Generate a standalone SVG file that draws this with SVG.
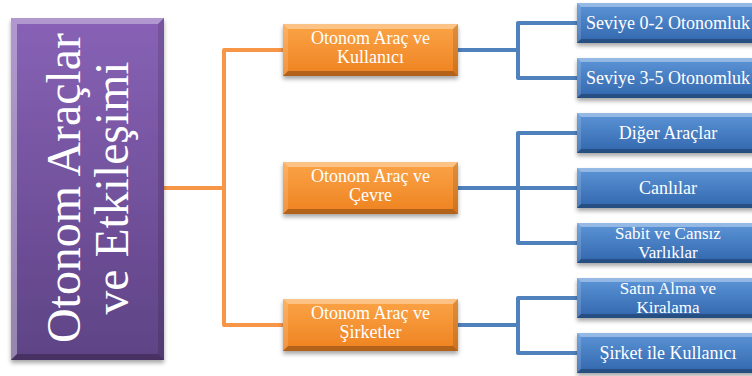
<svg xmlns="http://www.w3.org/2000/svg" width="752" height="376" viewBox="0 0 752 376">
<defs>
<linearGradient id="gPurple" x1="0" y1="0" x2="0" y2="1"><stop offset="0" stop-color="#8862B6"/><stop offset="1" stop-color="#5E4385"/></linearGradient>
<linearGradient id="gOrange" x1="0" y1="0" x2="0" y2="1"><stop offset="0" stop-color="#FBA447"/><stop offset="1" stop-color="#EE8220"/></linearGradient>
<linearGradient id="gBlue" x1="0" y1="0" x2="0" y2="1"><stop offset="0" stop-color="#5D95D8"/><stop offset="1" stop-color="#3166AC"/></linearGradient>
<filter id="sh" x="-10%" y="-20%" width="120%" height="150%"><feDropShadow dx="0" dy="3" stdDeviation="2" flood-color="#000" flood-opacity="0.35"/></filter>
</defs>
<style>
.lo{fill:none;stroke:#F79646;stroke-width:4;stroke-linejoin:round}
.lb{fill:none;stroke:#4F81BD;stroke-width:4;stroke-linejoin:round}
.hi{fill:#fff;fill-opacity:0.35}
.lt{fill:#fff;fill-opacity:0.15}
.dk{fill:#000;fill-opacity:0.25}
.dm{fill:#000;fill-opacity:0.12}
.t{font-family:"Liberation Serif","Times New Roman",serif;fill:#fff;text-anchor:middle}
.to{font-size:18px}
.tb{font-size:18px}
.tb2{font-size:17px}
.tp{font-size:48px}
</style>
<rect width="752" height="376" fill="#fff"/>
<g id="connectors">
<path class="lo" d="M164,188H224M283,50H224V325H283"/>
<path class="lb" d="M458,50H518M577,23H518V78H577"/>
<path class="lb" d="M458,188H518M577,133H518V243H577M518,188H577"/>
<path class="lb" d="M458,325H518M577,298H518V353H577"/>
</g>
<g id="root">
<rect x="11" y="18" width="153" height="342" fill="url(#gPurple)" filter="url(#sh)"/>
<polygon class="hi" points="11,18 164,18 158,24 17,24"/>
<polygon class="hi" points="11,18 17,24 17,354 11,360"/>
<polygon class="dk" points="11,360 17,354 158,354 164,360"/>
<polygon class="dm" points="164,18 164,360 158,354 158,24"/>
<text class="t tp" transform="translate(80,188) rotate(-90)" textLength="310" lengthAdjust="spacingAndGlyphs">Otonom Araçlar</text>
<text class="t tp" transform="translate(128,188) rotate(-90)" textLength="253" lengthAdjust="spacingAndGlyphs">ve Etkileşimi</text>
</g>
<g id="o1">
<rect x="283" y="24" width="175" height="52" fill="url(#gOrange)" filter="url(#sh)"/>
<polygon class="hi" points="283,24 458,24 453,29 288,29"/>
<polygon class="lt" points="283,24 288,29 288,71 283,76"/>
<polygon class="dk" points="283,76 288,71 453,71 458,76"/>
<polygon class="dm" points="458,24 458,76 453,71 453,29"/>
<text class="t to" x="370.5" y="44">Otonom Araç ve</text>
<text class="t to" x="370.5" y="63">Kullanıcı</text>
</g>
<g id="o2">
<rect x="283" y="162" width="175" height="52" fill="url(#gOrange)" filter="url(#sh)"/>
<polygon class="hi" points="283,162 458,162 453,167 288,167"/>
<polygon class="lt" points="283,162 288,167 288,209 283,214"/>
<polygon class="dk" points="283,214 288,209 453,209 458,214"/>
<polygon class="dm" points="458,162 458,214 453,209 453,167"/>
<text class="t to" x="370.5" y="182">Otonom Araç ve</text>
<text class="t to" x="370.5" y="201">Çevre</text>
</g>
<g id="o3">
<rect x="283" y="299" width="175" height="52" fill="url(#gOrange)" filter="url(#sh)"/>
<polygon class="hi" points="283,299 458,299 453,304 288,304"/>
<polygon class="lt" points="283,299 288,304 288,346 283,351"/>
<polygon class="dk" points="283,351 288,346 453,346 458,351"/>
<polygon class="dm" points="458,299 458,351 453,346 453,304"/>
<text class="t to" x="370.5" y="319">Otonom Araç ve</text>
<text class="t to" x="370.5" y="338">Şirketler</text>
</g>
<g id="b1">
<rect x="577" y="3" width="182" height="40" fill="url(#gBlue)" filter="url(#sh)"/>
<polygon class="hi" points="577,3 759,3 755,7 581,7"/>
<polygon class="lt" points="577,3 581,7 581,39 577,43"/>
<polygon class="dk" points="577,43 581,39 755,39 759,43"/>
<text class="t tb" x="668" y="29">Seviye 0-2 Otonomluk</text>
</g>
<g id="b2">
<rect x="577" y="58" width="182" height="40" fill="url(#gBlue)" filter="url(#sh)"/>
<polygon class="hi" points="577,58 759,58 755,62 581,62"/>
<polygon class="lt" points="577,58 581,62 581,94 577,98"/>
<polygon class="dk" points="577,98 581,94 755,94 759,98"/>
<text class="t tb" x="668" y="84">Seviye 3-5 Otonomluk</text>
</g>
<g id="b3">
<rect x="577" y="113" width="182" height="40" fill="url(#gBlue)" filter="url(#sh)"/>
<polygon class="hi" points="577,113 759,113 755,117 581,117"/>
<polygon class="lt" points="577,113 581,117 581,149 577,153"/>
<polygon class="dk" points="577,153 581,149 755,149 759,153"/>
<text class="t tb" x="668" y="139">Diğer Araçlar</text>
</g>
<g id="b4">
<rect x="577" y="168" width="182" height="40" fill="url(#gBlue)" filter="url(#sh)"/>
<polygon class="hi" points="577,168 759,168 755,172 581,172"/>
<polygon class="lt" points="577,168 581,172 581,204 577,208"/>
<polygon class="dk" points="577,208 581,204 755,204 759,208"/>
<text class="t tb" x="668" y="194">Canlılar</text>
</g>
<g id="b5">
<rect x="577" y="223" width="182" height="40" fill="url(#gBlue)" filter="url(#sh)"/>
<polygon class="hi" points="577,223 759,223 755,227 581,227"/>
<polygon class="lt" points="577,223 581,227 581,259 577,263"/>
<polygon class="dk" points="577,263 581,259 755,259 759,263"/>
<text class="t tb2" x="668" y="239">Sabit ve Cansız</text>
<text class="t tb2" x="668" y="258">Varlıklar</text>
</g>
<g id="b6">
<rect x="577" y="278" width="182" height="40" fill="url(#gBlue)" filter="url(#sh)"/>
<polygon class="hi" points="577,278 759,278 755,282 581,282"/>
<polygon class="lt" points="577,278 581,282 581,314 577,318"/>
<polygon class="dk" points="577,318 581,314 755,314 759,318"/>
<text class="t tb2" x="668" y="294">Satın Alma ve</text>
<text class="t tb2" x="668" y="313">Kiralama</text>
</g>
<g id="b7">
<rect x="577" y="333" width="182" height="40" fill="url(#gBlue)" filter="url(#sh)"/>
<polygon class="hi" points="577,333 759,333 755,337 581,337"/>
<polygon class="lt" points="577,333 581,337 581,369 577,373"/>
<polygon class="dk" points="577,373 581,369 755,369 759,373"/>
<text class="t tb" x="668" y="359">Şirket ile Kullanıcı</text>
</g>
</svg>
